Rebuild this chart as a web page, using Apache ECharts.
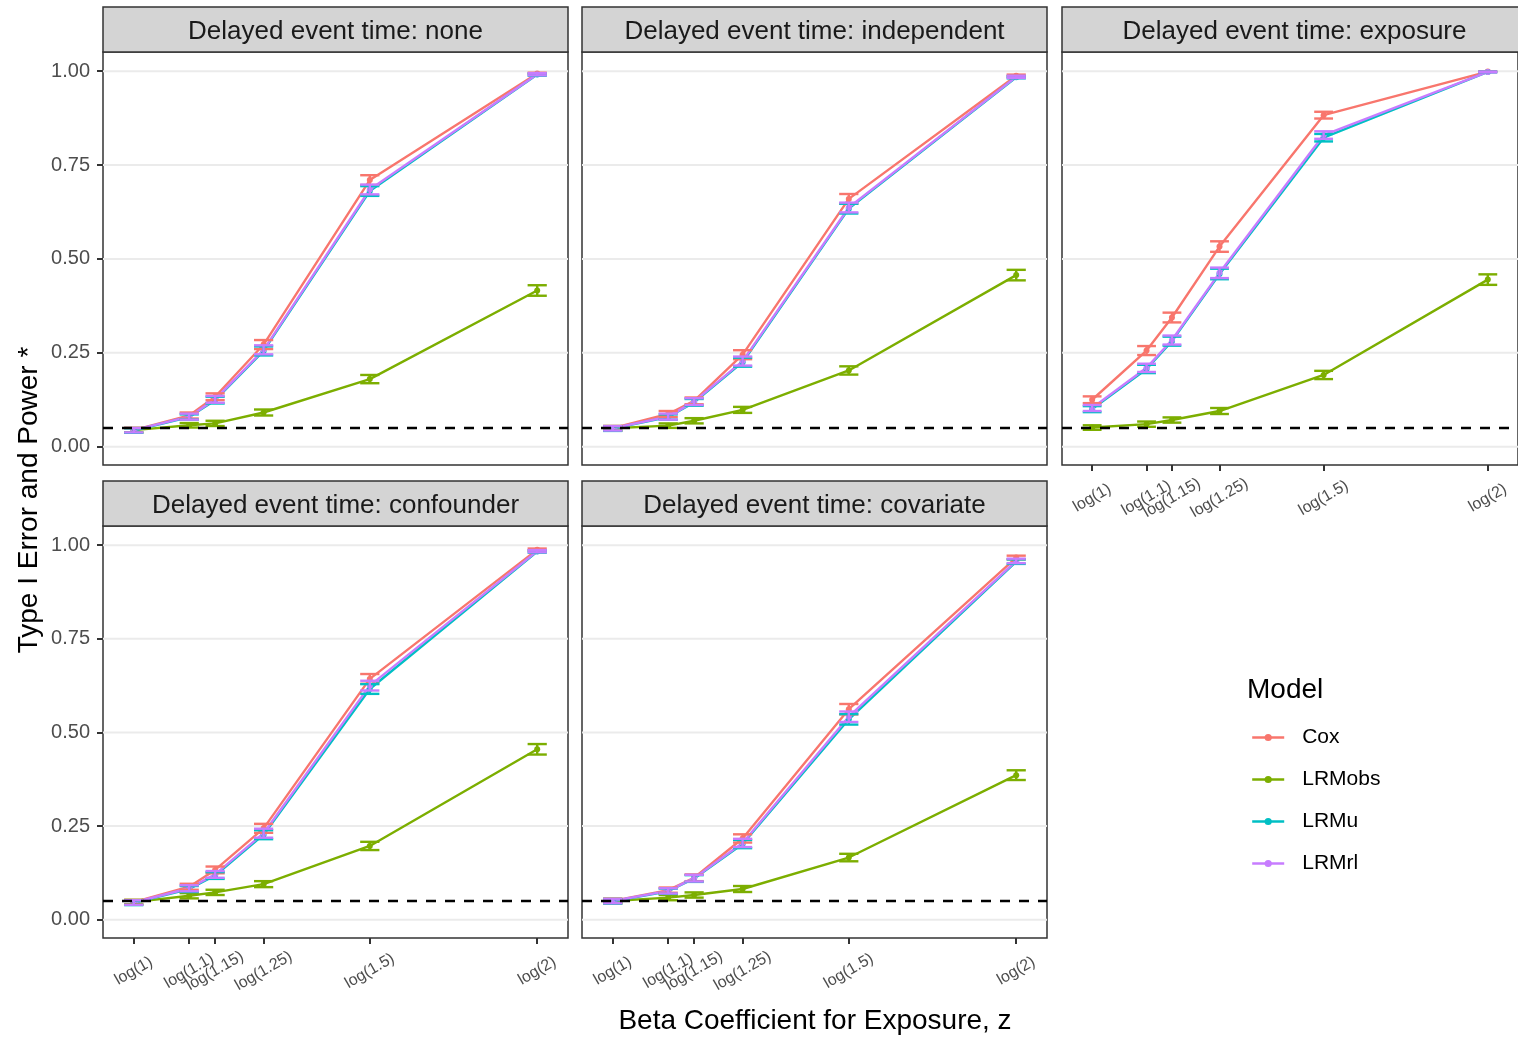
<!DOCTYPE html>
<html><head><meta charset="utf-8">
<script src="https://cdn.jsdelivr.net/npm/echarts@6/dist/echarts.min.js"></script>
<style>html,body{margin:0;padding:0;background:#fff}#c{width:1518px;height:1039px}</style>
</head><body><div id="c"></div>
<script>
// ---------- data ----------
const xLabels = ['log(1)','log(1.1)','log(1.15)','log(1.25)','log(1.5)','log(2)'];
const xValues = [0, 0.0953, 0.1398, 0.2231, 0.4055, 0.6931];
const yTicks = [0, 0.25, 0.5, 0.75, 1];
const yTickLabels = ['0.00','0.25','0.50','0.75','1.00'];
const models = ['Cox','LRMobs','LRMu','LRMrl'];
const panels = ['none','independent','exposure','confounder','covariate'];
const refLine = 0.05;

const none_Cox        = [0.044, 0.083, 0.133, 0.272, 0.710, 0.994];
const none_LRMobs     = [0.044, 0.057, 0.062, 0.091, 0.180, 0.416];
const none_LRMu       = [0.043, 0.079, 0.124, 0.255, 0.681, 0.991];
const none_LRMrl      = [0.044, 0.080, 0.126, 0.258, 0.685, 0.992];
const none_Cox_err    = [0.006, 0.008, 0.009, 0.012, 0.013, 0.002];
const none_LRMobs_err = [0.006, 0.006, 0.007, 0.008, 0.011, 0.014];
const none_LRMu_err   = [0.006, 0.007, 0.009, 0.012, 0.013, 0.003];
const none_LRMrl_err  = [0.006, 0.008, 0.009, 0.012, 0.013, 0.003];

const independent_Cox        = [0.049, 0.087, 0.122, 0.245, 0.660, 0.988];
const independent_LRMobs     = [0.049, 0.056, 0.069, 0.098, 0.203, 0.457];
const independent_LRMu       = [0.048, 0.079, 0.118, 0.225, 0.634, 0.984];
const independent_LRMrl      = [0.049, 0.080, 0.120, 0.228, 0.637, 0.985];
const independent_Cox_err    = [0.006, 0.008, 0.009, 0.012, 0.013, 0.003];
const independent_LRMobs_err = [0.006, 0.006, 0.007, 0.008, 0.011, 0.014];
const independent_LRMu_err   = [0.006, 0.007, 0.009, 0.012, 0.013, 0.003];
const independent_LRMrl_err  = [0.006, 0.008, 0.009, 0.012, 0.013, 0.003];

const exposure_Cox        = [0.125, 0.256, 0.344, 0.533, 0.883, 0.999];
const exposure_LRMobs     = [0.051, 0.060, 0.071, 0.095, 0.191, 0.445];
const exposure_LRMu       = [0.100, 0.207, 0.281, 0.460, 0.823, 0.998];
const exposure_LRMrl      = [0.103, 0.210, 0.284, 0.463, 0.830, 0.998];
const exposure_Cox_err    = [0.009, 0.012, 0.013, 0.014, 0.009, 0.001];
const exposure_LRMobs_err = [0.006, 0.007, 0.007, 0.008, 0.011, 0.014];
const exposure_LRMu_err   = [0.008, 0.011, 0.012, 0.014, 0.010, 0.001];
const exposure_LRMrl_err  = [0.008, 0.011, 0.012, 0.014, 0.010, 0.001];

const confounder_Cox        = [0.047, 0.088, 0.133, 0.244, 0.643, 0.988];
const confounder_LRMobs     = [0.047, 0.064, 0.073, 0.095, 0.197, 0.455];
const confounder_LRMu       = [0.045, 0.082, 0.118, 0.227, 0.616, 0.983];
const confounder_LRMrl      = [0.046, 0.084, 0.121, 0.231, 0.625, 0.984];
const confounder_Cox_err    = [0.006, 0.008, 0.009, 0.012, 0.013, 0.003];
const confounder_LRMobs_err = [0.006, 0.007, 0.007, 0.008, 0.011, 0.014];
const confounder_LRMu_err   = [0.006, 0.008, 0.009, 0.012, 0.013, 0.003];
const confounder_LRMrl_err  = [0.006, 0.008, 0.009, 0.012, 0.013, 0.003];

const covariate_Cox        = [0.050, 0.079, 0.112, 0.217, 0.562, 0.967];
const covariate_LRMobs     = [0.050, 0.059, 0.066, 0.082, 0.166, 0.386];
const covariate_LRMu       = [0.049, 0.076, 0.110, 0.202, 0.535, 0.956];
const covariate_LRMrl      = [0.050, 0.077, 0.111, 0.205, 0.542, 0.958];
const covariate_Cox_err    = [0.006, 0.007, 0.009, 0.011, 0.014, 0.005];
const covariate_LRMobs_err = [0.006, 0.007, 0.007, 0.008, 0.010, 0.013];
const covariate_LRMu_err   = [0.006, 0.007, 0.009, 0.011, 0.014, 0.006];
const covariate_LRMrl_err  = [0.006, 0.007, 0.009, 0.011, 0.014, 0.006];

// ---------- lookups built from the arrays ----------
const panelValues = {
  none: [none_Cox, none_LRMobs, none_LRMu, none_LRMrl],
  independent: [independent_Cox, independent_LRMobs, independent_LRMu, independent_LRMrl],
  exposure: [exposure_Cox, exposure_LRMobs, exposure_LRMu, exposure_LRMrl],
  confounder: [confounder_Cox, confounder_LRMobs, confounder_LRMu, confounder_LRMrl],
  covariate: [covariate_Cox, covariate_LRMobs, covariate_LRMu, covariate_LRMrl]
};
const panelErrors = {
  none: [none_Cox_err, none_LRMobs_err, none_LRMu_err, none_LRMrl_err],
  independent: [independent_Cox_err, independent_LRMobs_err, independent_LRMu_err, independent_LRMrl_err],
  exposure: [exposure_Cox_err, exposure_LRMobs_err, exposure_LRMu_err, exposure_LRMrl_err],
  confounder: [confounder_Cox_err, confounder_LRMobs_err, confounder_LRMu_err, confounder_LRMrl_err],
  covariate: [covariate_Cox_err, covariate_LRMobs_err, covariate_LRMu_err, covariate_LRMrl_err]
};

// ---------- styles / layout ----------
const FONT = '"Liberation Sans", Arial, Helvetica, sans-serif';
const colors = ['#F8766D', '#7CAE00', '#00BFC4', '#C77CFF'];
const boxes = [
  {left: 103, top: 52, width: 465, height: 413},
  {left: 582, top: 52, width: 465, height: 413},
  {left: 1062, top: 52, width: 465, height: 413},
  {left: 103, top: 526, width: 465, height: 412},
  {left: 582, top: 526, width: 465, height: 412}
];
const showX = [false, false, true, true, true];
const showY = [true, false, false, true, false];
const X_MIN = -0.0528, X_MAX = 0.746, Y_MIN = -0.0488, Y_MAX = 1.0512;
const CAP_HALF = 0.0165;
const LW = 2.4;

const grids = [], xAxes = [], yAxes = [], series = [], graphics = [];

boxes.forEach((b, i) => {
  grids.push({left: b.left, top: b.top, width: b.width, height: b.height, containLabel: false,
    show: true, borderColor: '#333333', borderWidth: 1.5, backgroundColor: '#fff', z: 0});
  xAxes.push({
    type: 'value', gridIndex: i, min: X_MIN, max: X_MAX, position: 'bottom',
    axisLine: {show: false, onZero: false},
    splitLine: {show: false},
    axisTick: {show: showX[i], customValues: xValues, length: 6, lineStyle: {color: '#333333', width: 2}},
    axisLabel: {show: showX[i], customValues: xValues, rotate: 30, align: 'center', verticalAlign: 'middle',
      margin: 33, fontSize: 16, color: '#4D4D4D', fontFamily: FONT,
      formatter: v => { const k = xValues.indexOf(v); return k >= 0 ? xLabels[k] : ''; }}
  });
  yAxes.push({
    type: 'value', gridIndex: i, min: Y_MIN, max: Y_MAX, position: 'left',
    axisLine: {show: false, onZero: false},
    splitLine: {show: false},
    axisTick: {show: showY[i], customValues: yTicks, length: 6, lineStyle: {color: '#333333', width: 2}},
    axisLabel: {show: showY[i], customValues: yTicks, margin: 13, fontSize: 20, color: '#4D4D4D', fontFamily: FONT,
      formatter: v => { const k = yTicks.indexOf(v); return k >= 0 ? yTickLabels[k] : ''; }}
  });

  series.push({
    type: 'custom', xAxisIndex: i, yAxisIndex: i, silent: true, z: 1, clip: true,
    data: yTicks.map(v => [0, v]),
    encode: {x: 0, y: 1},
    renderItem: (params, api) => {
      const cs = params.coordSys;
      const p = api.coord([0, api.value(1)]);
      return {type: 'line', shape: {x1: cs.x, y1: p[1], x2: cs.x + cs.width, y2: p[1]},
        style: {stroke: '#EBEBEB', lineWidth: 2}};
    }
  });

  const pName = panels[i];
  models.forEach((m, k) => {
    const vals = panelValues[pName][k];
    series.push({
      type: 'line', name: m, xAxisIndex: i, yAxisIndex: i, z: 2,
      data: xValues.map((x, j) => [x, vals[j]]),
      symbol: 'circle', symbolSize: 6, showSymbol: true,
      lineStyle: {color: colors[k], width: LW},
      itemStyle: {color: colors[k]},
      emphasis: {disabled: true}
    });
  });
});

boxes.forEach((b, i) => {
  const pName = panels[i];
  models.forEach((m, k) => {
    const vals = panelValues[pName][k];
    const errs = panelErrors[pName][k];
    const col = colors[k];
    series.push({
      type: 'custom', name: m, xAxisIndex: i, yAxisIndex: i, z: 3, silent: true,
      data: xValues.map((x, j) => [x, vals[j], errs[j]]),
      encode: {x: 0, y: 1},
      renderItem: (params, api) => {
        const x = api.value(0), y = api.value(1), e = api.value(2);
        const t = api.coord([x, y + e]), bo = api.coord([x, y - e]);
        const l = api.coord([x - CAP_HALF, y])[0], r = api.coord([x + CAP_HALF, y])[0];
        const st = {stroke: col, lineWidth: LW};
        return {type: 'group', children: [
          {type: 'line', shape: {x1: t[0], y1: t[1], x2: bo[0], y2: bo[1]}, style: st},
          {type: 'line', shape: {x1: l, y1: t[1], x2: r, y2: t[1]}, style: st},
          {type: 'line', shape: {x1: l, y1: bo[1], x2: r, y2: bo[1]}, style: st}
        ]};
      }
    });
  });
  series.push({
    type: 'custom', xAxisIndex: i, yAxisIndex: i, silent: true, z: 4,
    data: [[0, refLine]], encode: {x: 0, y: 1},
    renderItem: (params, api) => {
      const cs = params.coordSys;
      const p = api.coord([0, api.value(1)]);
      return {type: 'line', shape: {x1: cs.x, y1: p[1], x2: cs.x + cs.width, y2: p[1]},
        style: {stroke: '#000', lineWidth: 2.5, lineDash: [10, 9]}};
    }
  });

  graphics.push({type: 'rect', shape: {x: b.left, y: b.top - 45, width: b.width, height: 45},
    style: {fill: '#D4D4D4', stroke: '#333333', lineWidth: 1.5}, z: 10, silent: true});
  graphics.push({type: 'text', x: b.left + b.width / 2, y: b.top - 20, z: 11, silent: true,
    style: {text: 'Delayed event time: ' + pName, fontSize: 26, fontFamily: FONT, fill: '#1A1A1A',
      textAlign: 'center', textVerticalAlign: 'middle'}});
});

graphics.push({type: 'text', x: 29, y: 500, rotation: Math.PI / 2, z: 11, silent: true,
  style: {text: 'Type I Error and Power *', fontSize: 28, fontFamily: FONT, fill: '#000',
    textAlign: 'center', textVerticalAlign: 'middle'}});
graphics.push({type: 'text', x: 815, y: 1021, z: 11, silent: true,
  style: {text: 'Beta Coefficient for Exposure, z', fontSize: 28, fontFamily: FONT, fill: '#000',
    textAlign: 'center', textVerticalAlign: 'middle'}});
graphics.push({type: 'text', x: 1247, y: 690, z: 11, silent: true,
  style: {text: 'Model', fontSize: 28, fontFamily: FONT, fill: '#000',
    textAlign: 'left', textVerticalAlign: 'middle'}});

const chart = echarts.init(document.getElementById('c'), null, {renderer: 'canvas'});
chart.setOption({
  animation: false,
  backgroundColor: '#fff',
  grid: grids, xAxis: xAxes, yAxis: yAxes, series: series,
  legend: {
    orient: 'vertical', left: 1251, top: 727, padding: 0,
    data: models, itemWidth: 32, itemHeight: 9, itemGap: 21,
    selectedMode: false,
    lineStyle: {width: LW},
    textStyle: {fontSize: 21, color: '#000', fontFamily: FONT, padding: [0, 0, 0, 13]}
  },
  graphic: graphics
});
</script></body></html>
